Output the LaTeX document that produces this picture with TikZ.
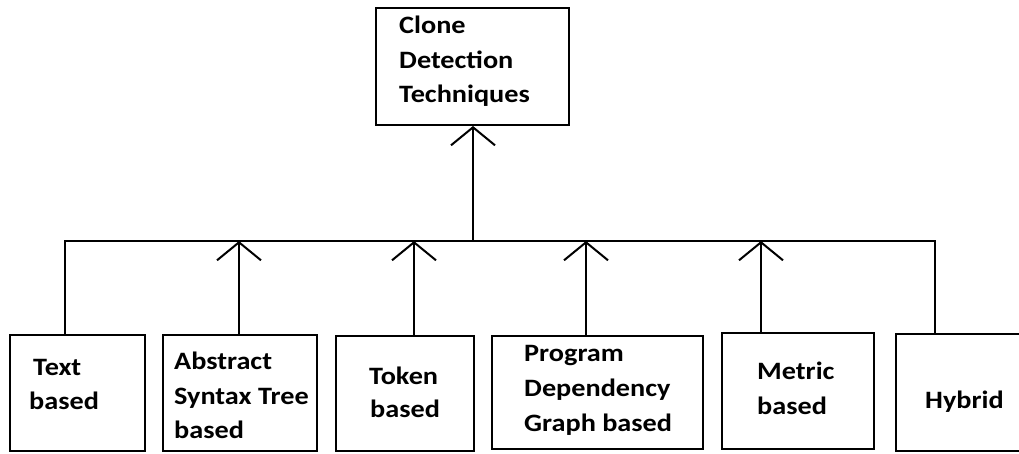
\documentclass[tikz,border=0pt]{standalone}
\usepackage{fontspec}
\setmainfont{Carlito}[FakeStretch=1.13]
\usetikzlibrary{arrows.meta}
\begin{document}
\begin{tikzpicture}[x=1pt,y=-1pt,
  box/.style={draw, line width=2pt, rectangle, inner sep=0pt},
  lbl/.style={anchor=base west, inner sep=0pt, font=\fontsize{25}{35}\selectfont\bfseries},
  conn/.style={line width=2pt},
  arr/.style={conn, -{Straight Barb[length=18pt,width=44pt]}}]
\useasboundingbox (0,0) rectangle (1019,453);
\clip (0,0) rectangle (1019,453);
% boxes
\node[box, minimum width=193pt, minimum height=117pt] (top) at (472.5,66.5) {};
\node[box, minimum width=135pt, minimum height=116pt] (txt) at (77.5,393) {};
\node[box, minimum width=154pt, minimum height=116pt] (ast) at (240,393) {};
\node[box, minimum width=138pt, minimum height=115pt] (tok) at (405,393.5) {};
\node[box, minimum width=211pt, minimum height=113pt] (pdg) at (597.5,392.5) {};
\node[box, minimum width=152pt, minimum height=116pt] (met) at (798,391) {};
\node[box, minimum width=144pt, minimum height=117pt] (hyb) at (968,392.5) {};
% labels
\node[lbl] (t1) at (399,33) {Clone};
\node[lbl] (t2) at (399,68) {Detection};
\node[lbl] (t3) at (399,102) {Techniques};
\node[lbl] (a1) at (33,375) {Text};
\node[lbl] (a2) at (29,409) {based};
\node[lbl] (b1) at (174,369) {Abstract};
\node[lbl] (b2) at (174,404) {Syntax Tree};
\node[lbl] (b3) at (174,438) {based};
\node[lbl] (c1) at (369,384) {Token};
\node[lbl] (c2) at (370,417) {based};
\node[lbl] (d1) at (524,361) {Program};
\node[lbl] (d2) at (524,396) {Dependency};
\node[lbl] (d3) at (524,431) {Graph based};
\node[lbl] (e1) at (757,379) {Metric};
\node[lbl] (e2) at (757,414) {based};
\node[lbl] (f1) at (925,408) {Hybrid};
% bus coordinates
\coordinate (bl) at (65,241);
\coordinate (br) at (935,241);
\coordinate (hub) at (473,241);
\coordinate (ja) at (239,241);
\coordinate (jt) at (414,241);
\coordinate (jp) at (586,241);
\coordinate (jm) at (761,241);
% connectors
\draw[conn] (txt.north -| bl) -- (bl) -- (br) -- (hyb.north -| br);
\draw[arr] (ast.north -| ja) -- (ja);
\draw[arr] (tok.north -| jt) -- (jt);
\draw[arr] (pdg.north -| jp) -- (jp);
\draw[arr] (met.north -| jm) -- (jm);
\draw[arr] (hub) -- (top.south -| hub);
\end{tikzpicture}
\end{document}
